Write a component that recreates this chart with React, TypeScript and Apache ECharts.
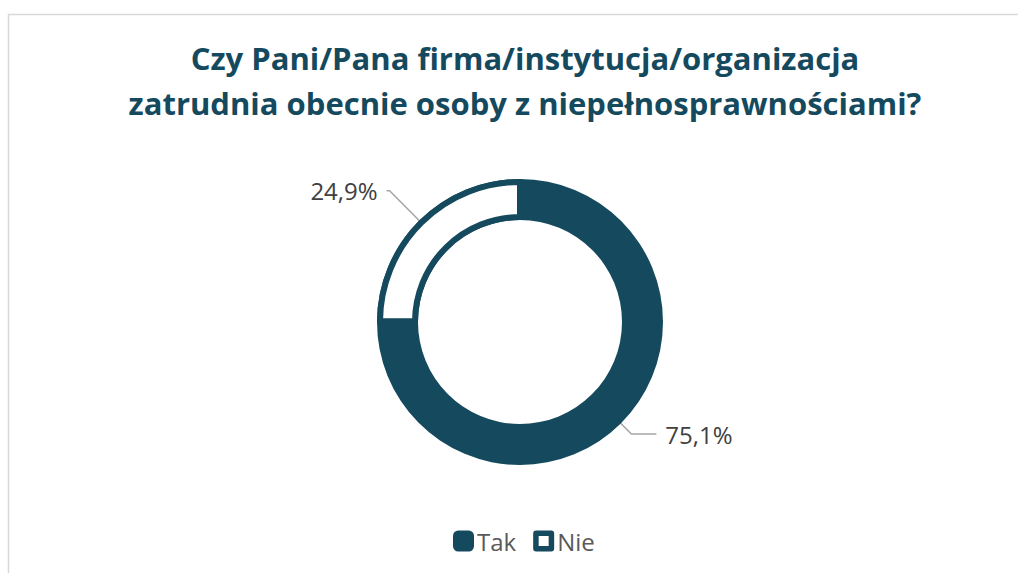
import React, { useEffect, useRef } from "react";
import * as echarts from "echarts";

const categories = ["Tak", "Nie"];
const values = [75.1, 24.9];
const labelTexts = ["75,1%", "24,9%"];
const titleLines = [
  "Czy Pani/Pana firma/instytucja/organizacja",
  "zatrudnia obecnie osoby z niepełnosprawnościami?",
];

const DARK = "#154a5e";
const FONT = "'Open Sans', 'Noto Sans', sans-serif";

export default function App() {
  const ref = useRef<HTMLDivElement>(null);
  useEffect(() => {
    if (!ref.current) return;
    const chart = echarts.init(ref.current, null, { renderer: "svg" });
    const center = [520, 322];
    const lineLens = [
      { length: 35, length2: 25 },
      { length: 62, length2: 3 },
    ];
    chart.setOption({
      animation: false,
      backgroundColor: "#ffffff",
      title: {
        text: titleLines.join("\n"),
        left: 520,
        top: 30,
        textAlign: "center",
        textStyle: {
          fontFamily: FONT,
          fontWeight: "bold",
          fontSize: 31,
          lineHeight: 45,
          color: DARK,
        },
      },
      legend: {
        left: 448,
        top: 524,
        itemWidth: 21,
        itemHeight: 21,
        itemGap: 17,
        selectedMode: false,
        textStyle: { fontFamily: FONT, fontSize: 24, color: "#595959", padding: [0, 0, 0, -2] },
        data: [
          { name: categories[0], icon: "roundRect" },
          {
            name: categories[1],
            icon:
              "path://M3,0 H18 Q21,0 21,3 V18 Q21,21 18,21 H3 Q0,21 0,18 V3 Q0,0 3,0 Z M5.5,5.5 V15.5 H15.5 V5.5 Z",
          },
        ],
      },
      graphic: [
        {
          type: "rect",
          shape: { x: 8.5, y: 14.5, width: 1040, height: 620 },
          style: { fill: "none", stroke: "#d9d9d9", lineWidth: 1.5 },
          silent: true,
          z: -10,
        },
      ],
      series: [
        {
          type: "pie",
          center,
          radius: [102, 143],
          startAngle: 90,
          clockwise: true,
          silent: true,
          label: { show: false },
          labelLine: { show: false },
          itemStyle: { color: DARK },
          data: categories.map((c, i) => ({ name: c, value: values[i] })),
        },
        {
          type: "pie",
          center,
          radius: [105, 140],
          startAngle: 90,
          clockwise: true,
          silent: true,
          label: { show: false },
          labelLine: { show: false },
          data: categories.map((c, i) => ({
            name: c,
            value: values[i],
            itemStyle:
              i === 1
                ? { color: "#ffffff", borderColor: DARK, borderWidth: 6 }
                : { color: "rgba(0,0,0,0)" },
          })),
        },
        {
          type: "pie",
          center,
          radius: [0, 123],
          startAngle: 90,
          clockwise: true,
          silent: true,
          avoidLabelOverlap: false,
          itemStyle: { color: "rgba(0,0,0,0)" },
          label: {
            show: true,
            position: "outside",
            fontFamily: FONT,
            fontSize: 24,
            color: "#404040",
            distanceToLabelLine: 9,
          },
          labelLine: {
            show: true,
            lineStyle: { color: "#a6a6a6", width: 1.5 },
          },
          data: categories.map((c, i) => ({
            name: c,
            value: values[i],
            label: { formatter: labelTexts[i] },
            labelLine: lineLens[i],
          })),
        },
      ],
    });
    return () => chart.dispose();
  }, []);
  return (
    <div
      ref={ref}
      style={{ position: "fixed", left: 0, top: 0, width: 1018, height: 573 }}
    />
  );
}
